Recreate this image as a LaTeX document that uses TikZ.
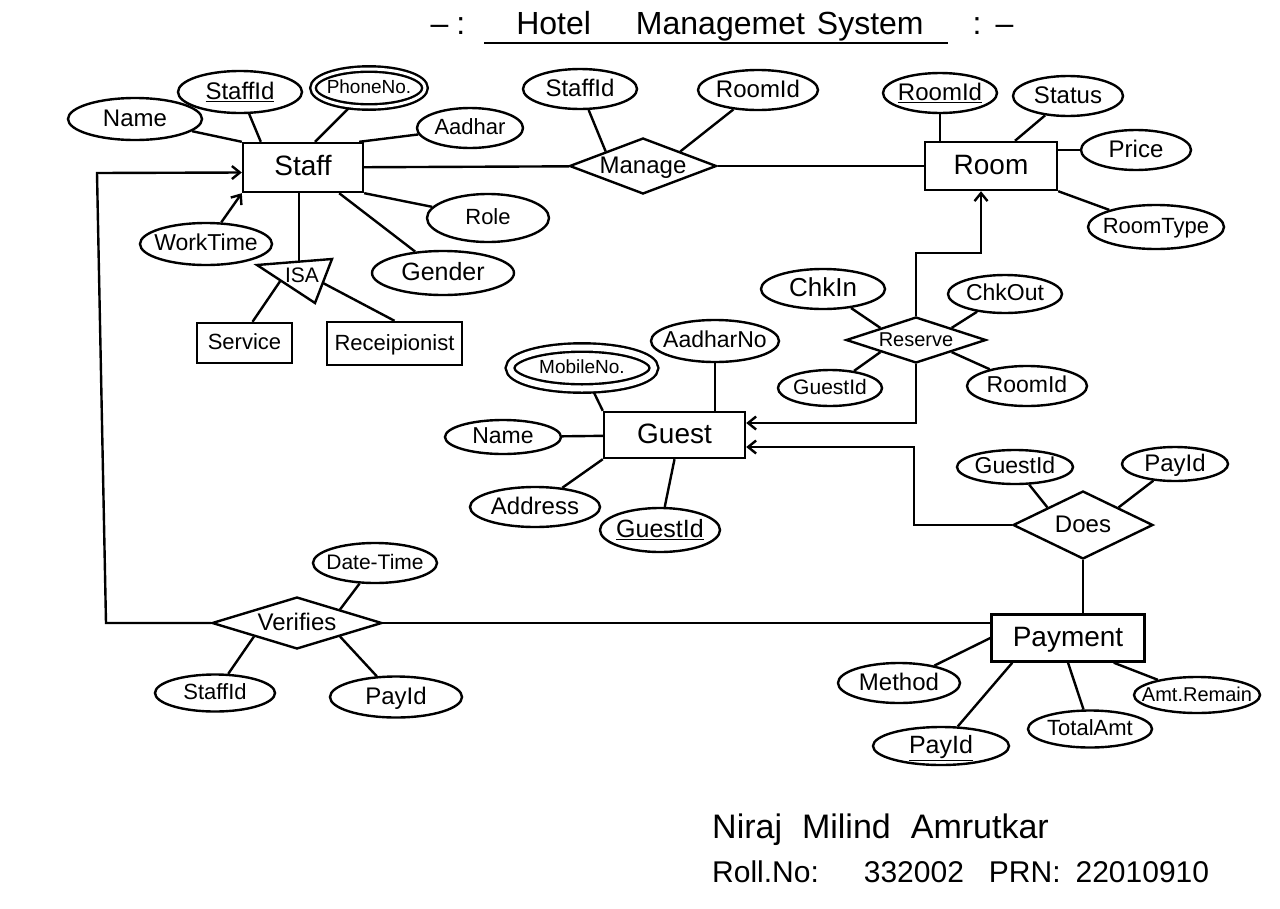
\documentclass[tikz,border=0pt]{standalone}
\usepackage{fontspec}
\setmainfont{Liberation Sans}
\usetikzlibrary{shapes.geometric,arrows.meta,calc,backgrounds}
\newcommand{\zw}[1]{\makebox[0pt]{\rule[-0.15em]{0pt}{0.9em}\smash{#1}}}
\newcommand{\fs}[1]{\fontsize{#1}{#1}\selectfont}
\begin{document}
\begin{tikzpicture}[x=1pt,y=-1pt,
  lw/.style={line width=2.4pt},
  every node/.style={inner sep=0pt},
  ent/.style={draw, lw, rectangle, fill=white, font=\fs{28}},
  attr/.style={draw, lw, ellipse, fill=white, font=\fs{23}},
  mattr/.style={attr, double, double distance=3pt},
  rel/.style={draw, lw, diamond, fill=white, aspect=3, font=\fs{24}},
  arr/.style={-{Straight Barb[length=8pt,width=13pt]}},
  sz/.style 2 args={minimum width=#1pt, minimum height=#2pt}
]
\useasboundingbox (0,0) rectangle (1280,908);
\begin{pgfonlayer}{background}
\fill[white] (0,0) rectangle (1280,908);
\end{pgfonlayer}

% title
\node[font=\fs{32}, anchor=base] (title) at (720,34) {Hotel\hspace{45pt}Managemet\hspace{12pt}System};
\node[font=\fs{32}, anchor=base] (tl) at (448,34) {–\hspace{8pt}:};
\node[font=\fs{32}, anchor=base] (tr) at (993,34) {:\hspace{14pt}–};
\draw[lw] ($(title.base west)+(-32,9)$) -- ($(title.base east)+(24,9)$);

% Staff
\node[ent, sz={120}{49}] (staff) at (303,167.5) {\zw{Staff}};
\node[attr, sz={134}{42}, font=\fs{24}] (name1) at (135,119) {\zw{Name}};
\node[attr, sz={124}{42}, font=\fs{24}] (sid1) at (240,92) {\zw{\underline{StaffId}}};
\node[mattr, sz={112}{38}, font=\fs{19}] (phone) at (369,88) {\zw{PhoneNo.}};
\node[attr, sz={106}{40}, font=\fs{22}] (aad1) at (470,128) {\zw{Aadhar}};
\node[attr, sz={122}{48}, font=\fs{22}] (role) at (488,218) {\zw{Role}};
\node[attr, sz={142}{44}, font=\fs{25}] (gender) at (443,273) {\zw{Gender}};
\node[attr, sz={132}{42}, font=\fs{23}] (work) at (206,244) {\zw{WorkTime}};

% ISA
\coordinate (isaA) at (257,265);
\coordinate (isaB) at (332,259);
\coordinate (isaC) at (315,303);
\coordinate (isaT) at (299,261);
\coordinate (isaL) at (283,277);
\coordinate (isaR) at (323,283);
\draw[lw, fill=white] (isaA) -- (isaB) -- (isaC) -- cycle;
\node[font=\fs{21}] (isa) at (302,276) {\zw{ISA}};
\node[ent, sz={95}{40}, font=\fs{22}] (service) at (244.5,343) {\zw{Service}};
\node[ent, sz={135}{43}, font=\fs{22}] (recep) at (394.5,343.5) {\zw{Receipionist}};

% Manage
\node[rel, sz={147}{56}] (manage) at (643,166) {\zw{Manage}};
\node[attr, sz={114}{40}, font=\fs{24}] (sid2) at (580,89) {\zw{StaffId}};
\node[attr, sz={120}{40}, font=\fs{24}] (rid2) at (758,90) {\zw{RoomId}};

% Room
\node[ent, sz={132}{48}] (room) at (991,166) {\zw{Room}};
\node[attr, sz={114}{40}, font=\fs{24}] (rid3) at (940,93) {\zw{\underline{RoomId}}};
\node[attr, sz={110}{40}, font=\fs{24}] (status) at (1068,96) {\zw{Status}};
\node[attr, sz={110}{40}, font=\fs{24}] (price) at (1136,150) {\zw{Price}};
\node[attr, sz={136}{44}, font=\fs{22}] (rtype) at (1156,227) {\zw{RoomType}};

% Reserve
\node[rel, sz={140}{46}, font=\fs{20}] (reserve) at (916,340) {\zw{Reserve}};
\node[attr, sz={124}{40}, font=\fs{26}] (chkin) at (823,289) {\zw{ChkIn}};
\node[attr, sz={114}{38}, font=\fs{23}] (chkout) at (1005,294) {\zw{ChkOut}};
\node[attr, sz={104}{36}, font=\fs{21}] (gid2) at (830,388) {\zw{GuestId}};
\node[attr, sz={120}{40}, font=\fs{23}] (rid4) at (1027,386) {\zw{RoomId}};

% Guest
\node[ent, sz={141}{46}] (guest) at (674.5,435) {\zw{Guest}};
\node[attr, sz={116}{34}, font=\fs{23}] (name2) at (503,437) {\zw{Name}};
\node[mattr, double distance=6pt, sz={144}{41}, font=\fs{19}] (mobile) at (582,368) {\zw{MobileNo.}};
\node[attr, sz={128}{42}, font=\fs{23}] (aadno) at (715,341) {\zw{AadharNo}};
\node[attr, sz={130}{40}, font=\fs{24}] (address) at (535,507) {\zw{Address}};
\node[attr, sz={120}{44}, font=\fs{25}] (gid3) at (660,530) {\zw{\underline{GuestId}}};

% Does / Payment
\node[rel, sz={140}{68}] (does) at (1083,525) {\zw{Does}};
\node[attr, sz={116}{34}, font=\fs{23}] (gid4) at (1015,467) {\zw{GuestId}};
\node[attr, sz={106}{34}, font=\fs{24}] (pid2) at (1175,464) {\zw{PayId}};
\node[ent, sz={153}{47}] (payment) at (1068,638) {\zw{Payment}};
\node[attr, sz={122}{40}, font=\fs{24}] (method) at (899,683) {\zw{Method}};
\node[attr, sz={136}{38}, font=\fs{25}] (pid3) at (941,746) {\zw{\underline{PayId}}};
\node[attr, sz={124}{37}, font=\fs{22}] (total) at (1090,729) {\zw{TotalAmt}};
\node[attr, sz={126}{36}, font=\fs{20}] (amt) at (1197,695) {\zw{Amt.Remain}};

% Verifies
\node[rel, sz={170}{52}] (verifies) at (297,623) {\zw{Verifies}};
\node[attr, sz={124}{40}, font=\fs{21}] (dt) at (375,563) {\zw{Date-Time}};
\node[attr, sz={120}{37}, font=\fs{22}] (sid5) at (215,693) {\zw{StaffId}};
\node[attr, sz={132}{41}, font=\fs{24}] (pid4) at (396,697) {\zw{PayId}};
\coordinate (lb) at (106,623);
\coordinate (lt) at (97,173);

% signature
\node[font=\fs{34}, anchor=base west] (sig1) at (712,838) {Niraj\hspace{20pt}Milind\hspace{20pt}Amrutkar};
\node[font=\fs{30}, anchor=base west] (sig2) at (712,882) {Roll.No:\hspace{45pt}332002\hspace{25pt}PRN:\hspace{15pt}22010910};

\begin{pgfonlayer}{background}
\begin{scope}[line width=2.4pt]
\draw (name1) -- (staff.north west);
\draw (sid1) -- ($(staff.north west)+(19,0)$);
\draw (phone) -- ($(staff.north)+(12,0)$);
\draw (aad1) -- ($(staff.north east)+(-5,0)$);
\draw (role) -- (staff.south east);
\draw (gender) -- ($(staff.south east)+(-25,0)$);
\draw[arr] (work) -- (staff.south west);
\draw ($(staff.south)+(-4,0)$) -- (isaT);
\draw (isaL) -- ($(service.north)+(8,0)$);
\draw (isaR) -- (recep.north);
\draw (staff) -- (manage);
\draw (manage) -- (room);
\draw (sid2) -- (manage.north west);
\draw (rid2) -- (manage.north east);
\draw (rid3) -- (rid3 |- room.north);
\draw (status) -- ($(room.north)+(24,0)$);
\draw (price) -- (price -| room.east);
\draw (rtype) -- (room.south east);
\draw[arr] (reserve.north) |- ($(room.south)+(-10,62)$) -- ($(room.south)+(-10,0)$);
\draw[arr] (reserve.south) |- ($(guest.east)+(0,-12)$);
\draw[arr] (does.west) -| ($(guest.east)+(168,12)$) -- ($(guest.east)+(0,12)$);
\draw (chkin) -- (reserve.north west);
\draw (chkout) -- (reserve.north east);
\draw (gid2) -- (reserve.south west);
\draw (rid4) -- (reserve.south east);
\draw (name2) -- (guest);
\draw (mobile) -- (guest.north west);
\draw (aadno) -- (aadno |- guest.north);
\draw (address) -- (guest.south west);
\draw (gid3) -- (guest.south);
\draw (gid4) -- (does.north west);
\draw (pid2) -- (does.north east);
\draw (does) -- (does |- payment.north);
\draw (method) -- (payment.west);
\draw (pid3) -- ($(payment.south west)+(22,0)$);
\draw (total) -- (payment.south);
\draw (amt) -- ($(payment.south east)+(-32,0)$);
\draw (verifies) -- (verifies -| payment.west);
\draw[arr] (verifies.west) -- (lb) -- (lt) -- ($(staff.west)+(0,5)$);
\draw (dt) -- (verifies.north east);
\draw (sid5) -- (verifies.south west);
\draw (pid4) -- (verifies.south east);
\end{scope}
\end{pgfonlayer}
\end{tikzpicture}
\end{document}
